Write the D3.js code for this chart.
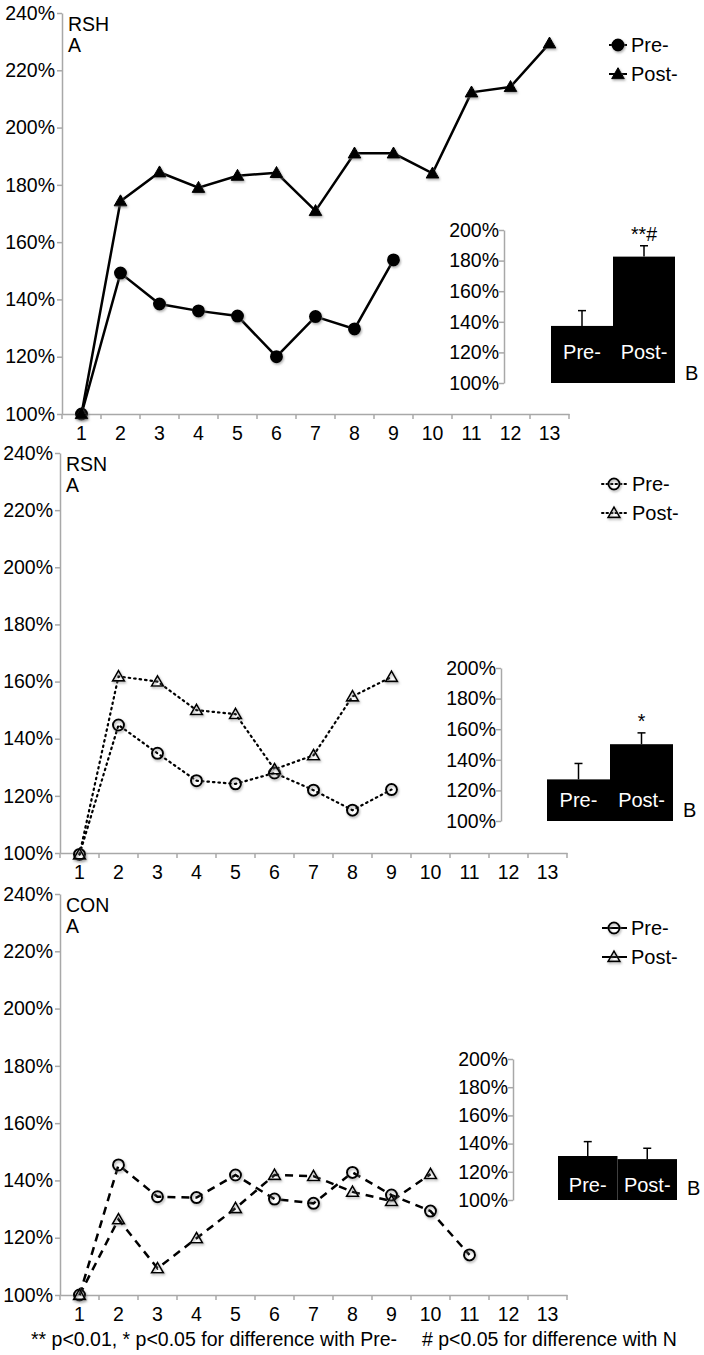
<!DOCTYPE html>
<html>
<head>
<meta charset="utf-8">
<script src="https://cdn.jsdelivr.net/npm/d3@7"></script>
<style>
	body { margin: 0; background: #fff; }
	svg { display: block; font-family: "Liberation Sans", Arial, sans-serif; }
</style>
</head>
<body>
<svg id="chart" width="704" height="1355"></svg>
<script>
// sessions on the x axis
const sessions = [1, 2, 3, 4, 5, 6, 7, 8, 9, 10, 11, 12, 13];
const yTicks = [100, 120, 140, 160, 180, 200, 220, 240];
const insetTicks = [100, 120, 140, 160, 180, 200];
const groups = ["Pre-", "Post-"];

// RSH
const rshPre = [100, 149.2, 138.4, 136, 134.2, 120, 134, 129.7, 153.8];
const rshPost = [100, 174.3, 184.4, 179, 183.2, 184.2, 170.9, 191, 191, 184, 212.3, 214.2, 229.4];
const rshBars = [137.3, 182.6];
const rshErr = [147.3, 189.7];

// RSN
const rsnPre = [99.5, 144.8, 134.9, 125.3, 124.2, 128, 122, 115, 122.2];
const rsnPost = [99.5, 161.8, 160, 150, 148.6, 129.3, 134.2, 154.8, 161.6];
const rsnBars = [127.2, 150.2];
const rsnErr = [137.6, 157.6];

// CON
const conPre = [100, 145.4, 134.3, 134, 141.9, 133.5, 132, 142.8, 134.9, 129.3, 114];
const conPost = [100, 126.4, 109.3, 119.8, 130.3, 141.9, 141.5, 136, 132.8, 142.2];
const conBars = [131.2, 129];
const conErr = [141.4, 136.7];

let panels = [
	{name: "RSH", pre: rshPre, post: rshPost, bars: rshBars, err: rshErr, note: "**#",
		top: 13, bottom: 414, left: 62, right: 569, style: "solid",
		inset: {x: 504, top: 230, bottom: 383, l: 551, r: 675, lab: 24.5, b: 3},
		leg: {x1: 609, x2: 627, mx: 618, y: 45}},
	{name: "RSN", pre: rsnPre, post: rsnPost, bars: rsnBars, err: rsnErr, note: "*",
		top: 453, bottom: 853, left: 60, right: 567, style: "dot",
		inset: {x: 501, top: 668, bottom: 821, l: 547, r: 673, lab: 14, b: 4},
		leg: {x1: 602, x2: 628, mx: 614, y: 484}},
	{name: "CON", pre: conPre, post: conPost, bars: conBars, err: conErr, note: "",
		top: 894, bottom: 1295, left: 60, right: 567, style: "dash",
		inset: {x: 513, top: 1059, bottom: 1200, l: 558, r: 677, lab: 8, b: 5},
		leg: {x1: 602, x2: 627, mx: 614, y: 928}}
];

let svg = d3.select("#chart");
let fs = 19.5;
let axisGrey = "#a8a8a8";

let defs = svg.append("defs");
defs.append("filter").attr("id", "shadow")
	.attr("x", "-50%").attr("y", "-50%").attr("width", "200%").attr("height", "200%")
	.append("feDropShadow")
	.attr("dx", 1).attr("dy", 1.5).attr("stdDeviation", 1)
	.attr("flood-color", "#777").attr("flood-opacity", 0.6);

let dashes = {solid: null, dot: "1.5,4", dash: "8,6"};

function marker(g, kind, filled, cx, cy) {
	let fill = filled ? "#000" : "none";
	if (kind == "circle") {
		g.append("circle")
			.attr("cx", cx).attr("cy", cy).attr("r", 5.5)
			.attr("fill", fill).attr("stroke", "#000").attr("stroke-width", 2)
			.attr("filter", "url(#shadow)");
	} else {
		let s = d3.symbol().type(d3.symbolTriangle).size(filled ? 70 : 60);
		g.append("path")
			.attr("transform", `translate(${cx},${cy + 1})`)
			.attr("d", s())
			.attr("fill", fill).attr("stroke", "#000").attr("stroke-width", filled ? 1 : 1.6)
			.attr("filter", "url(#shadow)");
	}
}

panels.forEach(p => {
	let x = d3.scaleBand().domain(sessions).range([p.left, p.right]);
	let y = d3.scaleLinear().domain([100, 240]).range([p.bottom, p.top]);
	let g = svg.append("g");
	let filled = p.style == "solid";

	// y axis
	let ya = g.append("g")
		.attr("transform", `translate(${p.left},0)`)
		.call(d3.axisLeft(y).tickValues(yTicks).tickFormat(d => d + "%").tickSize(5).tickSizeOuter(0));
	ya.select(".domain").attr("stroke", axisGrey).attr("stroke-width", 1.5);
	ya.selectAll(".tick line").attr("stroke", axisGrey).attr("stroke-width", 1.5);
	ya.selectAll("text").attr("font-size", fs).attr("fill", "#000").attr("x", -7).attr("font-family", null);

	// x axis
	let xa = g.append("g")
		.attr("transform", `translate(0,${p.bottom})`)
		.call(d3.axisBottom(x).tickSize(0).tickSizeOuter(0));
	xa.select(".domain").attr("stroke", axisGrey).attr("stroke-width", 1.5);
	xa.selectAll("text").attr("font-size", fs).attr("fill", "#000").attr("dy", "1.2em").attr("font-family", null);
	g.append("g").selectAll("line")
		.data(sessions.concat([null]))
		.join("line")
		.attr("x1", d => d == null ? p.right : x(d))
		.attr("x2", d => d == null ? p.right : x(d))
		.attr("y1", p.bottom).attr("y2", p.bottom + 5)
		.attr("stroke", axisGrey).attr("stroke-width", 1.5);

	// titles
	g.append("text").attr("x", p.left + 6).attr("y", p.top + 18).attr("font-size", fs).text(p.name);
	g.append("text").attr("x", p.left + 6).attr("y", p.top + 39).attr("font-size", fs).text("A");

	// lines
	let line = d3.line()
		.x((d, i) => x(sessions[i]) + x.bandwidth() / 2)
		.y(d => y(d));
	[p.pre, p.post].forEach(s => {
		g.append("path")
			.attr("d", line(s))
			.attr("fill", "none").attr("stroke", "#000")
			.attr("stroke-width", p.style == "dot" ? 2.2 : 2.5)
			.attr("stroke-linecap", p.style == "dot" ? "round" : "butt")
			.attr("stroke-dasharray", dashes[p.style]);
	});
	p.pre.forEach((d, i) => marker(g, "circle", filled, x(sessions[i]) + x.bandwidth() / 2, y(d)));
	p.post.forEach((d, i) => marker(g, "tri", filled, x(sessions[i]) + x.bandwidth() / 2, y(d)));

	// legend
	["circle", "tri"].forEach((k, i) => {
		let ly = p.leg.y + i * 29;
		g.append("line")
			.attr("x1", p.leg.x1).attr("x2", p.leg.x2)
			.attr("y1", ly).attr("y2", ly)
			.attr("stroke", "#000").attr("stroke-width", 2)
			.attr("stroke-linecap", p.style == "dot" ? "round" : "butt")
			.attr("stroke-dasharray", p.style == "dot" ? "1.5,3" : null);
		marker(g, k, filled, p.leg.mx, ly);
		g.append("text").attr("x", p.leg.x2 + 4).attr("y", ly + 7)
			.attr("font-size", fs + 0.5).text(groups[i]);
	});

	// inset bar chart
	let iy = d3.scaleLinear().domain([100, 200]).range([p.inset.bottom, p.inset.top]);
	let ix = d3.scaleBand().domain(groups).range([p.inset.l, p.inset.r]);
	let ia = g.append("g")
		.attr("transform", `translate(${p.inset.x},0)`)
		.call(d3.axisLeft(iy).tickValues(insetTicks).tickFormat(d => d + "%").tickSize(5).tickSizeOuter(0));
	ia.select(".domain").attr("stroke", axisGrey).attr("stroke-width", 1.5);
	ia.selectAll(".tick line").attr("stroke", axisGrey).attr("stroke-width", 1.5);
	ia.selectAll("text").attr("font-size", fs).attr("fill", "#000").attr("x", -5).attr("font-family", null);

	g.append("g").selectAll("line")
		.data(p.err)
		.join("line")
		.attr("x1", (d, i) => ix(groups[i]) + ix.bandwidth() / 2)
		.attr("x2", (d, i) => ix(groups[i]) + ix.bandwidth() / 2)
		.attr("y1", (d, i) => iy(p.bars[i])).attr("y2", d => iy(d))
		.attr("stroke", "#000").attr("stroke-width", 1.5);
	g.append("g").selectAll("line")
		.data(p.err)
		.join("line")
		.attr("x1", (d, i) => ix(groups[i]) + ix.bandwidth() / 2 - 4)
		.attr("x2", (d, i) => ix(groups[i]) + ix.bandwidth() / 2 + 4)
		.attr("y1", d => iy(d)).attr("y2", d => iy(d))
		.attr("stroke", "#000").attr("stroke-width", 1.5);
	g.append("g").selectAll("rect")
		.data(p.bars)
		.join("rect")
		.attr("x", (d, i) => ix(groups[i]))
		.attr("width", ix.bandwidth())
		.attr("y", d => iy(d))
		.attr("height", d => iy(100) - iy(d))
		.attr("fill", "#000");
	g.append("g").selectAll("text")
		.data(groups)
		.join("text")
		.attr("x", d => ix(d) + ix.bandwidth() / 2)
		.attr("y", p.inset.bottom - p.inset.lab)
		.attr("text-anchor", "middle")
		.attr("font-size", fs + 0.5)
		.attr("fill", "#fff")
		.text(d => d);
	if (p.note)
		g.append("text")
			.attr("x", ix("Post-") + ix.bandwidth() / 2)
			.attr("y", iy(p.err[1]) - 5)
			.attr("text-anchor", "middle")
			.attr("font-size", fs)
			.text(p.note);
	g.append("text").attr("x", p.inset.r + 10).attr("y", p.inset.bottom - p.inset.b)
		.attr("font-size", fs + 0.5).text("B");
});

svg.append("text").attr("x", 31).attr("y", 1346).attr("font-size", fs)
	.text("** p<0.01, * p<0.05 for difference with Pre-");
svg.append("text").attr("x", 422).attr("y", 1346).attr("font-size", fs)
	.text("# p<0.05 for difference with N");
</script>
</body>
</html>
